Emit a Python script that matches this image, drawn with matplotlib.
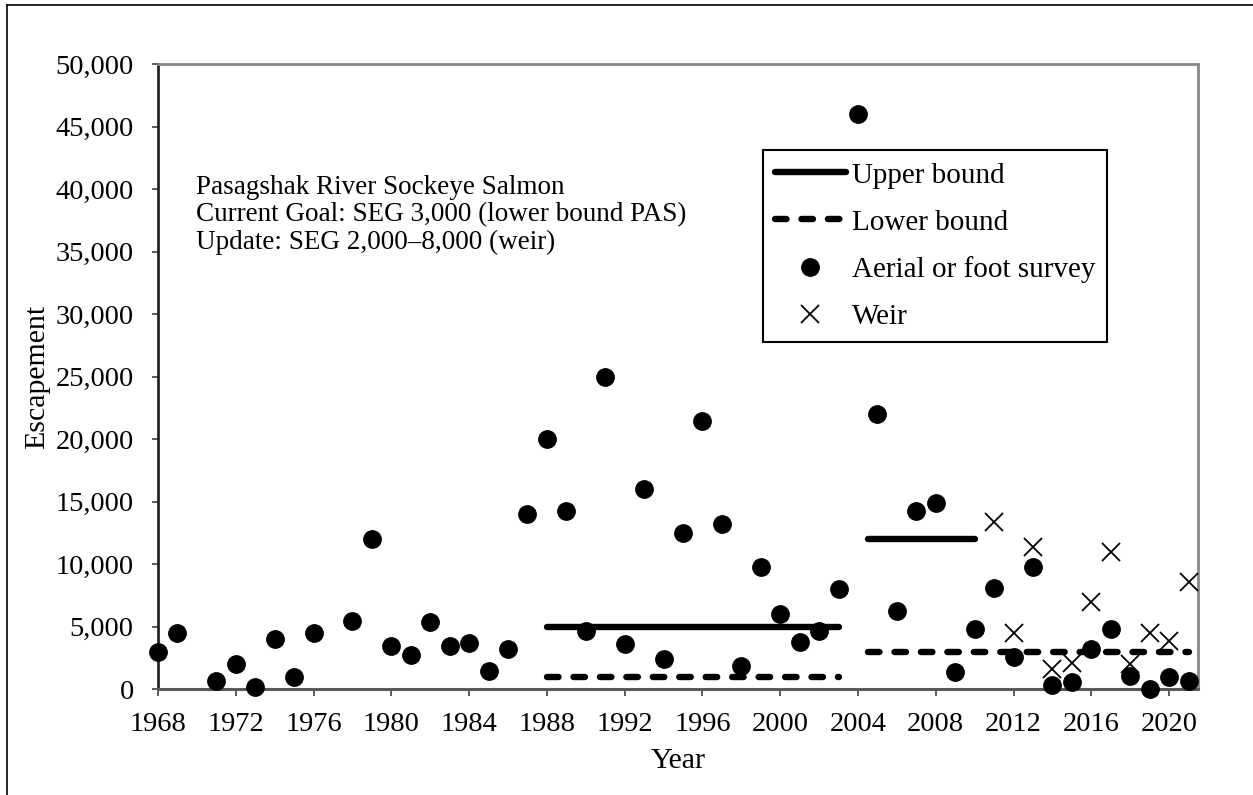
import matplotlib
matplotlib.use("Agg")
import matplotlib.pyplot as plt
from matplotlib.lines import Line2D
from matplotlib.ticker import FuncFormatter, MultipleLocator

plt.rcParams['font.family'] = ['Liberation Serif', 'DejaVu Serif']

# Aerial or foot survey counts
survey_years = [1968, 1969, 1971, 1972, 1973, 1974, 1975, 1976, 1978, 1979,
                1980, 1981, 1982, 1983, 1984, 1985, 1986, 1987, 1988, 1989,
                1990, 1991, 1992, 1993, 1994, 1995, 1996, 1997, 1998, 1999,
                2000, 2001, 2002, 2003, 2004, 2005, 2006, 2007, 2008, 2009,
                2010, 2011, 2012, 2013, 2014, 2015, 2016, 2017, 2018, 2019,
                2020, 2021]
survey_values = [3000, 4500, 700, 2000, 200, 4000, 1000, 4500, 5500, 12000,
                 3500, 2750, 5400, 3450, 3700, 1500, 3200, 14000, 20000, 14300,
                 4700, 25000, 3600, 16000, 2400, 12500, 21500, 13200, 1900, 9800,
                 6000, 3800, 4700, 8000, 46000, 22000, 6300, 14300, 14900, 1400,
                 4800, 8100, 2600, 9750, 350, 600, 3200, 4800, 1100, 50,
                 1000, 700]

# Weir counts
weir_years = [2011, 2012, 2013, 2014, 2015, 2016, 2017, 2018, 2019, 2020, 2021]
weir_values = [13400, 4500, 11400, 1600, 2100, 7000, 11000, 2000, 4500, 3900, 8600]

# Escapement goal bounds (segments)
upper1_years = [1988, 2003]
upper1_values = [5000, 5000]
lower1_years = [1988, 2003]
lower1_values = [1000, 1000]
upper2_years = [2004.5, 2010]
upper2_values = [12000, 12000]
lower2_years = [2004.5, 2021]
lower2_values = [3000, 3000]

xticks = list(range(1968, 2021, 4))
annotation = ("Pasagshak River Sockeye Salmon\n"
              "Current Goal: SEG 3,000 (lower bound PAS)\n"
              "Update: SEG 2,000\u20138,000 (weir)")

W, H = 1253, 795
fig = plt.figure(figsize=(W / 100, H / 100), dpi=100)
ax = fig.add_axes([158 / W, 1 - 689.3 / H, (1198.3 - 158) / W, (689.3 - 64.3) / H])

lw = 4.6
dash = (0, (1.8, 2.34))
ax.plot(upper1_years, upper1_values, color='black', lw=lw, solid_capstyle='round',
        label='Upper bound')
ax.plot(lower1_years, lower1_values, color='black', lw=lw, linestyle=dash,
        dash_capstyle='round', label='Lower bound')
ax.plot(upper2_years, upper2_values, color='black', lw=lw, solid_capstyle='round')
ax.plot(lower2_years, lower2_values, color='black', lw=lw, linestyle=dash,
        dash_capstyle='round')

ax.plot(survey_years, survey_values, linestyle='none', marker='o', markersize=12.5,
        color='black', clip_on=False, label='Aerial or foot survey', zorder=3)
ax.plot(weir_years, weir_values, linestyle='none', marker='x', markersize=13,
        markeredgewidth=1.3, color='black', label='Weir', zorder=3)

ax.set_xlim(1968, 2021.5)
ax.set_ylim(0, 50000)
ax.set_xticks(xticks)
ax.yaxis.set_major_locator(MultipleLocator(5000))
ax.yaxis.set_major_formatter(FuncFormatter(lambda v, p: f"{int(v):,}"))

fs_tick = 20.5
fs_lab = 21.5
fs_ann = 19.5
fs_leg = 21
ax.tick_params(axis='both', labelsize=fs_tick, direction='out', width=1.2,
               color='#404040')
ax.tick_params(axis='x', length=5, pad=11)
ax.tick_params(axis='y', length=4.5, pad=13)
ax.set_xlabel('Year', fontsize=fs_lab, labelpad=8)
ax.set_ylabel('Escapement', fontsize=fs_lab, labelpad=4)

for s in ['top', 'right']:
    ax.spines[s].set_color('#888888')
    ax.spines[s].set_linewidth(2)
ax.spines['left'].set_color('#262626')
ax.spines['left'].set_linewidth(2)
ax.spines['bottom'].set_color('#595959')
ax.spines['bottom'].set_linewidth(2.2)

ax.text(196 / W, 1 - 175 / H, annotation, transform=fig.transFigure, fontsize=fs_ann,
        va='top', ha='left', linespacing=1.13)

leg = ax.legend(loc='upper left', bbox_to_anchor=(762.7 / W, 1 - 150 / H),
                bbox_transform=fig.transFigure, borderaxespad=0, fontsize=fs_leg,
                frameon=True, fancybox=False, handlelength=2.43, handletextpad=0.2,
                labelspacing=0.7, borderpad=0.42)
fr = leg.get_frame()
fr.set_edgecolor('black')
fr.set_linewidth(1.5)
fr.set_alpha(1)

fig.add_artist(Line2D([7 / W, 7 / W], [0, 1 - 5 / H], transform=fig.transFigure,
                      color='black', lw=1.2))
fig.add_artist(Line2D([7 / W, 1], [1 - 5 / H, 1 - 5 / H], transform=fig.transFigure,
                      color='black', lw=1.2))

fig.savefig('out.png', dpi=100)
